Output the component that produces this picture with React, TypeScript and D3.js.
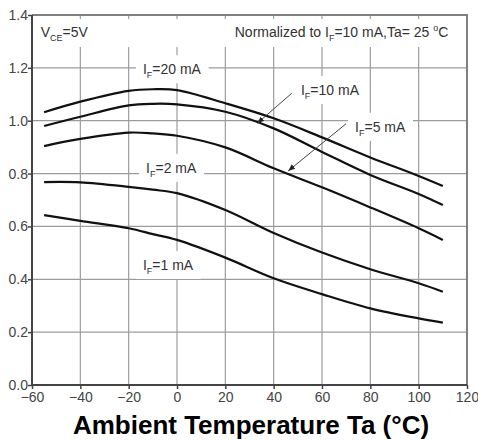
import React, { useEffect, useRef } from "react";
import * as d3 from "d3";

// ambient temperature (°C) where the curves were read
const temps = [-55, -40, -20, -10, 0, 20, 40, 60, 80, 100, 110];

// relative collector current for each forward current
const if20 = [1.032, 1.072, 1.113, 1.119, 1.116, 1.066, 1.009, 0.937, 0.861, 0.791, 0.753];
const if10 = [0.98, 1.015, 1.058, 1.064, 1.062, 1.034, 0.971, 0.882, 0.795, 0.723, 0.681];
const if5 = [0.904, 0.931, 0.955, 0.952, 0.943, 0.899, 0.82, 0.748, 0.672, 0.593, 0.549];
const if2 = [0.768, 0.767, 0.75, 0.739, 0.726, 0.662, 0.575, 0.501, 0.438, 0.385, 0.353];
const if1 = [0.643, 0.621, 0.593, 0.571, 0.549, 0.482, 0.404, 0.344, 0.29, 0.252, 0.236];

const xTicks = [-60, -40, -20, 0, 20, 40, 60, 80, 100, 120];
const yTicks = [0, 0.2, 0.4, 0.6, 0.8, 1.0, 1.2, 1.4];

const xTitle = "Ambient Temperature Ta (°C)";

export default function App() {
  const svgRef = useRef(null);

  useEffect(() => {
    const svg = d3.select(svgRef.current);
    svg.selectAll("*").remove();

    const width = 478;
    const height = 441;
    const margin = { top: 15, right: 11, bottom: 56, left: 32 };
    const font = "Arial, 'Liberation Sans', sans-serif";

    const x = d3.scaleLinear().domain([-60, 120]).range([margin.left, width - margin.right]);
    const y = d3.scaleLinear().domain([0, 1.4]).range([height - margin.bottom, margin.top]);

    svg.append("rect").attr("width", width).attr("height", height).attr("fill", "#fff");

    // grid
    const grid = svg.append("g").attr("stroke", "#9c9c9c").attr("stroke-width", 1.2);
    grid
      .selectAll("line.v")
      .data(xTicks.slice(1, -1))
      .enter()
      .append("line")
      .attr("x1", (d) => x(d))
      .attr("x2", (d) => x(d))
      .attr("y1", y(1.4))
      .attr("y2", y(0));
    grid
      .selectAll("line.h")
      .data(yTicks.slice(1, -1))
      .enter()
      .append("line")
      .attr("x1", x(-60))
      .attr("x2", x(120))
      .attr("y1", (d) => y(d))
      .attr("y2", (d) => y(d));

    // white band under the header notes
    svg
      .append("rect")
      .attr("x", x(-60) + 1)
      .attr("y", y(1.4) + 4)
      .attr("width", x(120) - x(-60) - 2)
      .attr("height", 28)
      .attr("fill", "#fff");

    // curves
    const line = d3
      .line()
      .x((d) => x(d[0]))
      .y((d) => y(d[1]))
      .curve(d3.curveCatmullRom.alpha(0.5));

    const series = [if20, if10, if5, if2, if1];
    const labelLayer = svg.append("g");
    svg
      .append("g")
      .selectAll("path")
      .data(series)
      .enter()
      .append("path")
      .attr("d", (vals) => line(temps.map((t, i) => [t, vals[i]])))
      .attr("fill", "none")
      .attr("stroke", "#111")
      .attr("stroke-width", 2.2);

    // axis frame
    svg
      .append("path")
      .attr("d", `M${x(-60)},${y(1.4)}H${x(120)}V${y(0)}`)
      .attr("fill", "none")
      .attr("stroke", "#808080")
      .attr("stroke-width", 2);
    svg
      .append("path")
      .attr("d", `M${x(-60)},${y(1.4)}V${y(0)}H${x(120)}`)
      .attr("fill", "none")
      .attr("stroke", "#444")
      .attr("stroke-width", 2);

    // axes
    const yAxis = svg
      .append("g")
      .attr("transform", `translate(${x(-60)},0)`)
      .call(d3.axisLeft(y).tickValues(yTicks).tickFormat(d3.format(".1f")).tickSize(4).tickPadding(0));
    const xAxis = svg
      .append("g")
      .attr("transform", `translate(0,${y(0)})`)
      .call(d3.axisBottom(x).tickValues(xTicks).tickFormat(d3.format("d")).tickSize(4).tickPadding(3));
    [xAxis, yAxis].forEach((ax) => {
      ax.select(".domain").remove();
      ax.selectAll("line").attr("stroke", "#444").attr("stroke-width", 1.5);
      ax.selectAll("text")
        .attr("fill", "#444")
        .style("font-family", font)
        .style("font-size", "14px");
    });

    // annotation text with sub/superscripts
    const addLabel = (tx, ty, parts, anchor = "start", bg = true) => {
      const g = labelLayer.append("g");
      const text = g
        .append("text")
        .attr("x", x(tx))
        .attr("y", y(ty))
        .attr("text-anchor", anchor)
        .attr("fill", "#333")
        .style("font-family", font)
        .style("font-size", "14px");
      let shift = 0;
      parts.forEach(([s, kind]) => {
        const target = kind === "sub" ? 4 : kind === "sup" ? -6 : 0;
        text
          .append("tspan")
          .attr("dy", target - shift)
          .style("font-size", kind ? "9px" : "14px")
          .text(s);
        shift = target;
      });
      if (bg) {
        const b = text.node().getBBox();
        const cy = y(ty) - 5;
        g.insert("rect", "text")
          .attr("x", b.x - 7)
          .attr("y", cy - 14)
          .attr("width", b.width + 14)
          .attr("height", 28)
          .attr("fill", "#fff");
      }
    };

    addLabel(-56.4, 1.317, [["V"], ["CE", "sub"], ["=5V"]], "start", false);
    addLabel(
      112.3,
      1.317,
      [["Normalized to I"], ["F", "sub"], ["=10 mA,Ta= 25 "], ["o", "sup"], ["C"]],
      "end",
      false
    );
    addLabel(-14.1, 1.176, [["I"], ["F", "sub"], ["=20 mA"]]);
    addLabel(51.3, 1.097, [["I"], ["F", "sub"], ["=10 mA"]]);
    addLabel(73.7, 0.958, [["I"], ["F", "sub"], ["=5 mA"]]);
    addLabel(-12.8, 0.803, [["I"], ["F", "sub"], ["=2 mA"]]);
    addLabel(-14.1, 0.435, [["I"], ["F", "sub"], ["=1 mA"]]);

    // leader arrows
    const defs = svg.append("defs");
    defs
      .append("marker")
      .attr("id", "arrow")
      .attr("viewBox", "0 0 10 10")
      .attr("refX", 10)
      .attr("refY", 5)
      .attr("markerWidth", 7)
      .attr("markerHeight", 7)
      .attr("markerUnits", "userSpaceOnUse")
      .attr("orient", "auto")
      .append("path")
      .attr("d", "M0,1 L10,5 L0,9 Z")
      .attr("fill", "#222");

    const leaders = [
      [47.5, 1.104, 33.2, 0.99],
      [69.9, 0.988, 46.0, 0.81],
    ];
    svg
      .append("g")
      .selectAll("line")
      .data(leaders)
      .enter()
      .append("line")
      .attr("x1", (d) => x(d[0]))
      .attr("y1", (d) => y(d[1]))
      .attr("x2", (d) => x(d[2]))
      .attr("y2", (d) => y(d[3]))
      .attr("stroke", "#444")
      .attr("stroke-width", 1)
      .attr("marker-end", "url(#arrow)");

    // x axis title
    svg
      .append("text")
      .attr("x", 251)
      .attr("y", 434)
      .attr("text-anchor", "middle")
      .attr("fill", "#000")
      .style("font-family", font)
      .style("font-weight", "bold")
      .style("font-size", "26px")
      .text(xTitle);
  }, []);

  return (
    <svg
      ref={svgRef}
      width={478}
      height={441}
      style={{ position: "absolute", left: 0, top: 0, display: "block" }}
    ></svg>
  );
}
